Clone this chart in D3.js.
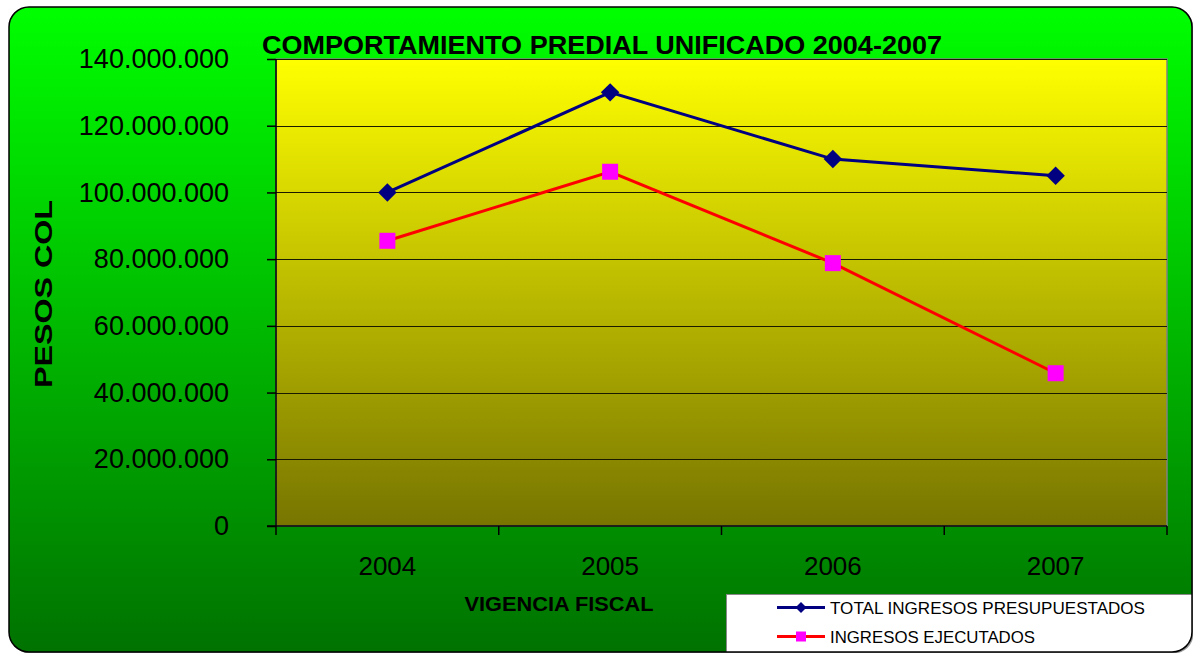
<!DOCTYPE html>
<html><head><meta charset="utf-8">
<script src="https://cdn.jsdelivr.net/npm/d3@7"></script>
<style>html,body{margin:0;padding:0;background:#fff;}svg{display:block;font-family:"Liberation Sans",Arial,sans-serif;}</style>
</head><body>
<svg id="c" width="1193" height="653"></svg>
<script>
const categories = ["2004","2005","2006","2007"];
const presupuestados = [100000000, 130000000, 110000000, 105000000];
const ejecutados = [85500000, 106200000, 78800000, 45800000];
const yTicks = [0,20000000,40000000,60000000,80000000,100000000,120000000,140000000];
const seriesNames = ["TOTAL INGRESOS PRESUPUESTADOS","INGRESOS EJECUTADOS"];
const title = "COMPORTAMIENTO PREDIAL UNIFICADO 2004-2007";
const xTitle = "VIGENCIA FISCAL";
const yTitle = "PESOS COL";

const svg = d3.select("#c");
const defs = svg.append("defs");
const gOut = defs.append("linearGradient").attr("id","gOut").attr("x1",0).attr("y1",0).attr("x2",0).attr("y2",1);
gOut.append("stop").attr("offset","0%").attr("stop-color","#00ff00");
gOut.append("stop").attr("offset","100%").attr("stop-color","#007200");
const gIn = defs.append("linearGradient").attr("id","gIn").attr("x1",0).attr("y1",0).attr("x2",0).attr("y2",1);
gIn.append("stop").attr("offset","0%").attr("stop-color","#ffff00");
gIn.append("stop").attr("offset","100%").attr("stop-color","#777500");
defs.append("clipPath").attr("id","frameClip").append("rect")
  .attr("x",9).attr("y",7).attr("width",1183).attr("height",645).attr("rx",20).attr("ry",20);

// frame
svg.append("rect").attr("x",10.5).attr("y",8.5).attr("width",1183).attr("height",645).attr("rx",20)
  .attr("fill","#999");
svg.append("rect").attr("x",9).attr("y",7).attr("width",1183).attr("height",645).attr("rx",20)
  .attr("fill","url(#gOut)");

const L=276, T=59, R=1167, B=526;
const x = d3.scaleBand().domain(categories).range([L,R]);
const y = d3.scaleLinear().domain([0,140000000]).range([B,T]);

svg.append("rect").attr("x",L).attr("y",T).attr("width",R-L).attr("height",B-T)
  .attr("fill","url(#gIn)").attr("stroke","#808080").attr("stroke-width",1.5);

// grid
svg.append("g").selectAll("line").data(yTicks.filter(d=>d>0)).join("line")
  .attr("x1",L).attr("x2",R).attr("y1",d=>Math.round(y(d))+0.5).attr("y2",d=>Math.round(y(d))+0.5)
  .attr("stroke","#1a1a00").attr("stroke-width",1);

// y axis
const fmt = d => d3.format(",")(d).replace(/,/g,".");
const ya = svg.append("g").attr("transform",`translate(${L},0)`)
  .call(d3.axisLeft(y).tickValues(yTicks).tickFormat(fmt).tickSize(9).tickPadding(38));
ya.selectAll("text").attr("font-size","27px").attr("fill","#000").attr("font-family","Liberation Sans, Arial");
ya.selectAll("line,path").attr("stroke","#000").attr("stroke-width",1.5);
ya.select("path").attr("d",`M0,${T}V${B}`);

// x axis
const xa = svg.append("g").attr("transform",`translate(0,${B})`)
  .call(d3.axisBottom(x).tickSize(0).tickPadding(31));
xa.selectAll("text").attr("font-size","26px").attr("fill","#000").attr("font-family","Liberation Sans, Arial");
xa.select("path").attr("stroke","#000").attr("stroke-width",1.5).attr("d",`M${L-9},0H${R}`);
svg.append("g").selectAll("line").data(categories.concat(["end"])).join("line")
  .attr("x1",(d,i)=>L+i*x.step()).attr("x2",(d,i)=>L+i*x.step())
  .attr("y1",B).attr("y2",B+9).attr("stroke","#000").attr("stroke-width",1.5);

// lines
const line = d3.line().x((d,i)=>x(categories[i])+x.bandwidth()/2).y(d=>y(d));
svg.append("path").datum(presupuestados).attr("d",line).attr("fill","none").attr("stroke","#000080").attr("stroke-width",3);
svg.append("path").datum(ejecutados).attr("d",line).attr("fill","none").attr("stroke","#ff0000").attr("stroke-width",3);
svg.append("g").selectAll("path").data(presupuestados).join("path")
  .attr("d",d3.symbol(d3.symbolSquare,170))
  .attr("transform",(d,i)=>`translate(${x(categories[i])+x.bandwidth()/2},${y(d)}) rotate(45)`)
  .attr("fill","#000080");
svg.append("g").selectAll("rect").data(ejecutados).join("rect")
  .attr("x",(d,i)=>x(categories[i])+x.bandwidth()/2-8).attr("y",d=>y(d)-8)
  .attr("width",16).attr("height",16).attr("fill","#ff00ff");

// titles
svg.append("text").attr("x",262).attr("y",54).attr("font-size","26px").attr("font-weight","bold")
  .attr("textLength",680).attr("lengthAdjust","spacingAndGlyphs").text(title);
svg.append("text").attr("x",559).attr("y",611).attr("text-anchor","middle").attr("font-size","20px").attr("font-weight","bold")
  .attr("textLength",189).attr("lengthAdjust","spacingAndGlyphs").text(xTitle);
svg.append("text").attr("transform","translate(52,294) rotate(-90)").attr("text-anchor","middle")
  .attr("font-size","24px").attr("font-weight","bold")
  .attr("textLength",188).attr("lengthAdjust","spacingAndGlyphs").text(yTitle);

// legend
const lg = svg.append("g").attr("clip-path","url(#frameClip)");
lg.append("rect").attr("x",726.5).attr("y",594.5).attr("width",480).attr("height",80)
  .attr("fill","#fff").attr("stroke","#888").attr("stroke-width",1);
svg.append("rect").attr("x",9).attr("y",7).attr("width",1183).attr("height",645).attr("rx",20)
  .attr("fill","none").attr("stroke","#000").attr("stroke-width",1.5);
const legRows = [
  {name:seriesNames[0], color:"#000080", y:607.5, w:315},
  {name:seriesNames[1], color:"#ff0000", y:636.5, w:205}
];
legRows.forEach((r,i)=>{
  svg.append("line").attr("x1",777).attr("x2",825).attr("y1",r.y).attr("y2",r.y).attr("stroke",r.color).attr("stroke-width",3);
  if(i===0){
    svg.append("path").attr("d",d3.symbol(d3.symbolSquare,60)).attr("transform",`translate(801,${r.y}) rotate(45)`).attr("fill","#000080");
  } else {
    svg.append("rect").attr("x",796).attr("y",r.y-5).attr("width",10).attr("height",10).attr("fill","#ff00ff");
  }
  svg.append("text").attr("x",830).attr("y",r.y+6).attr("font-size","17px")
    .attr("textLength",r.w).attr("lengthAdjust","spacingAndGlyphs").text(r.name);
});
</script>
</body></html>
